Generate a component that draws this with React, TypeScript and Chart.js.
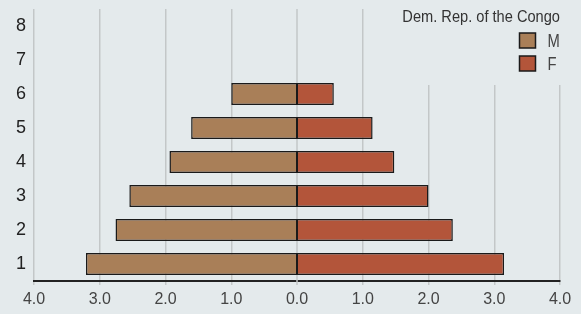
import React, { useEffect, useRef } from "react";
import { Chart, registerables } from "chart.js";

Chart.register(...registerables);

const categories = ["1", "2", "3", "4", "5", "6", "7", "8"];
const maleValues: (number | null)[] = [3.21, 2.76, 2.55, 1.94, 1.61, 1.0, null, null];
const femaleValues: (number | null)[] = [3.15, 2.37, 2.0, 1.48, 1.15, 0.56, null, null];
const xTicks = [-4, -3, -2, -1, 0, 1, 2, 3, 4];
const legendTitle = "Dem. Rep. of the Congo";
const seriesNames = ["M", "F"];

const BG = "#e4eaec";
const GRID = "#c3c7c8";
const MALE_COLOR = "#a97f58";
const FEMALE_COLOR = "#b3553a";
const FONT = '"Liberation Sans", Arial, sans-serif';
const NARROW = 0.86;

// zero grid line drawn separately so bars can meet exactly at zero
const zeroLinePlugin = {
  id: "zeroLine",
  beforeDatasetsDraw(chart: any) {
    const { ctx, chartArea, scales } = chart;
    const x = scales.x.getPixelForValue(0);
    ctx.save();
    ctx.strokeStyle = GRID;
    ctx.lineWidth = 1.5;
    ctx.beginPath();
    ctx.moveTo(x, chartArea.top);
    ctx.lineTo(x, chartArea.bottom + 4);
    ctx.stroke();
    ctx.restore();
  },
};

const legendPlugin = {
  id: "boxLegend",
  afterDraw(chart: any) {
    const { ctx, chartArea } = chart;
    const right = chartArea.right;
    const top = chartArea.top;
    ctx.save();
    // background panel hiding grid lines behind the legend
    ctx.fillStyle = BG;
    ctx.fillRect(right - 162, top, 164, 76);
    ctx.fillStyle = "#333";
    ctx.font = `17px ${FONT}`;
    ctx.textAlign = "right";
    ctx.textBaseline = "alphabetic";
    ctx.save();
    ctx.translate(right, top + 12.5);
    ctx.scale(NARROW, 1);
    ctx.fillText(legendTitle, 0, 0);
    ctx.restore();
    const colors = [MALE_COLOR, FEMALE_COLOR];
    ctx.font = `18px ${FONT}`;
    ctx.textAlign = "left";
    chart.data.datasets.forEach((ds: any, i: number) => {
      const bx = right - 40.5;
      const by = top + 24 + i * 23;
      ctx.fillStyle = colors[i];
      ctx.fillRect(bx, by, 16, 15);
      ctx.strokeStyle = "#1a1a1a";
      ctx.lineWidth = 1.5;
      ctx.strokeRect(bx, by, 16, 15);
      ctx.fillStyle = "#444";
      ctx.save();
      ctx.translate(bx + 28, by + 14);
      ctx.scale(0.82, 1);
      ctx.fillText(ds.label, 0, 0);
      ctx.restore();
    });
    ctx.restore();
  },
};

export default function App() {
  const canvasRef = useRef<HTMLCanvasElement | null>(null);

  useEffect(() => {
    document.body.style.margin = "0";
    const canvas = canvasRef.current;
    if (!canvas) return;
    Chart.defaults.font.family = FONT;
    const chart = new Chart(canvas, {
      type: "bar",
      data: {
        labels: categories,
        datasets: [
          {
            label: seriesNames[0],
            data: maleValues.map((v) => (v == null ? null : -v)),
            backgroundColor: MALE_COLOR,
            borderColor: "#1a1a1a",
            borderWidth: { top: 1.5, bottom: 1.5, left: 1.5, right: 1 },
            borderSkipped: false,
          },
          {
            label: seriesNames[1],
            data: femaleValues,
            backgroundColor: FEMALE_COLOR,
            borderColor: "#1a1a1a",
            borderWidth: { top: 1.5, bottom: 1.5, left: 1, right: 1.5 },
            borderSkipped: false,
          },
        ],
      },
      options: {
        indexAxis: "y",
        animation: false,
        responsive: false,
        devicePixelRatio: 1,
        layout: { padding: { top: 9, right: 21, left: 0, bottom: 0 } },
        datasets: { bar: { categoryPercentage: 1, barPercentage: 0.65 } },
        plugins: {
          legend: { display: false },
          tooltip: { enabled: false },
        },
        scales: {
          x: {
            stacked: true,
            min: -4,
            max: 4,
            afterBuildTicks: (scale: any) => {
              scale.ticks = xTicks.map((v) => ({ value: v }));
            },
            afterFit: (scale: any) => {
              scale.height = 33;
              scale.paddingLeft = 0;
              scale.paddingRight = 0;
            },
            grid: {
              color: GRID,
              lineWidth: (c: any) => (c.tick && c.tick.value === 0 ? 0 : 1.5),
              drawTicks: true,
              tickLength: 4,
            },
            border: { display: true, color: "#222", width: 2 },
            ticks: {
              color: "#444",
              font: { size: 16 },
              padding: 5,
              callback: (v: any) => Math.abs(Number(v)).toFixed(1),
            },
          },
          y: {
            stacked: true,
            reverse: true,
            afterFit: (scale: any) => {
              scale.width = 34;
              scale.paddingTop = 0;
              scale.paddingBottom = 0;
            },
            grid: { display: false, drawTicks: false },
            border: { display: false },
            ticks: {
              color: "#222",
              font: { size: 18 },
              padding: 8,
            },
          },
        },
      },
      plugins: [zeroLinePlugin, legendPlugin],
    } as any);
    return () => chart.destroy();
  }, []);

  return (
    <div
      style={{
        position: "fixed",
        left: 0,
        top: 0,
        width: 581,
        height: 314,
        background: BG,
      }}
    >
      <canvas ref={canvasRef} width={581} height={314} style={{ display: "block", width: 581, height: 314 }} />
    </div>
  );
}
